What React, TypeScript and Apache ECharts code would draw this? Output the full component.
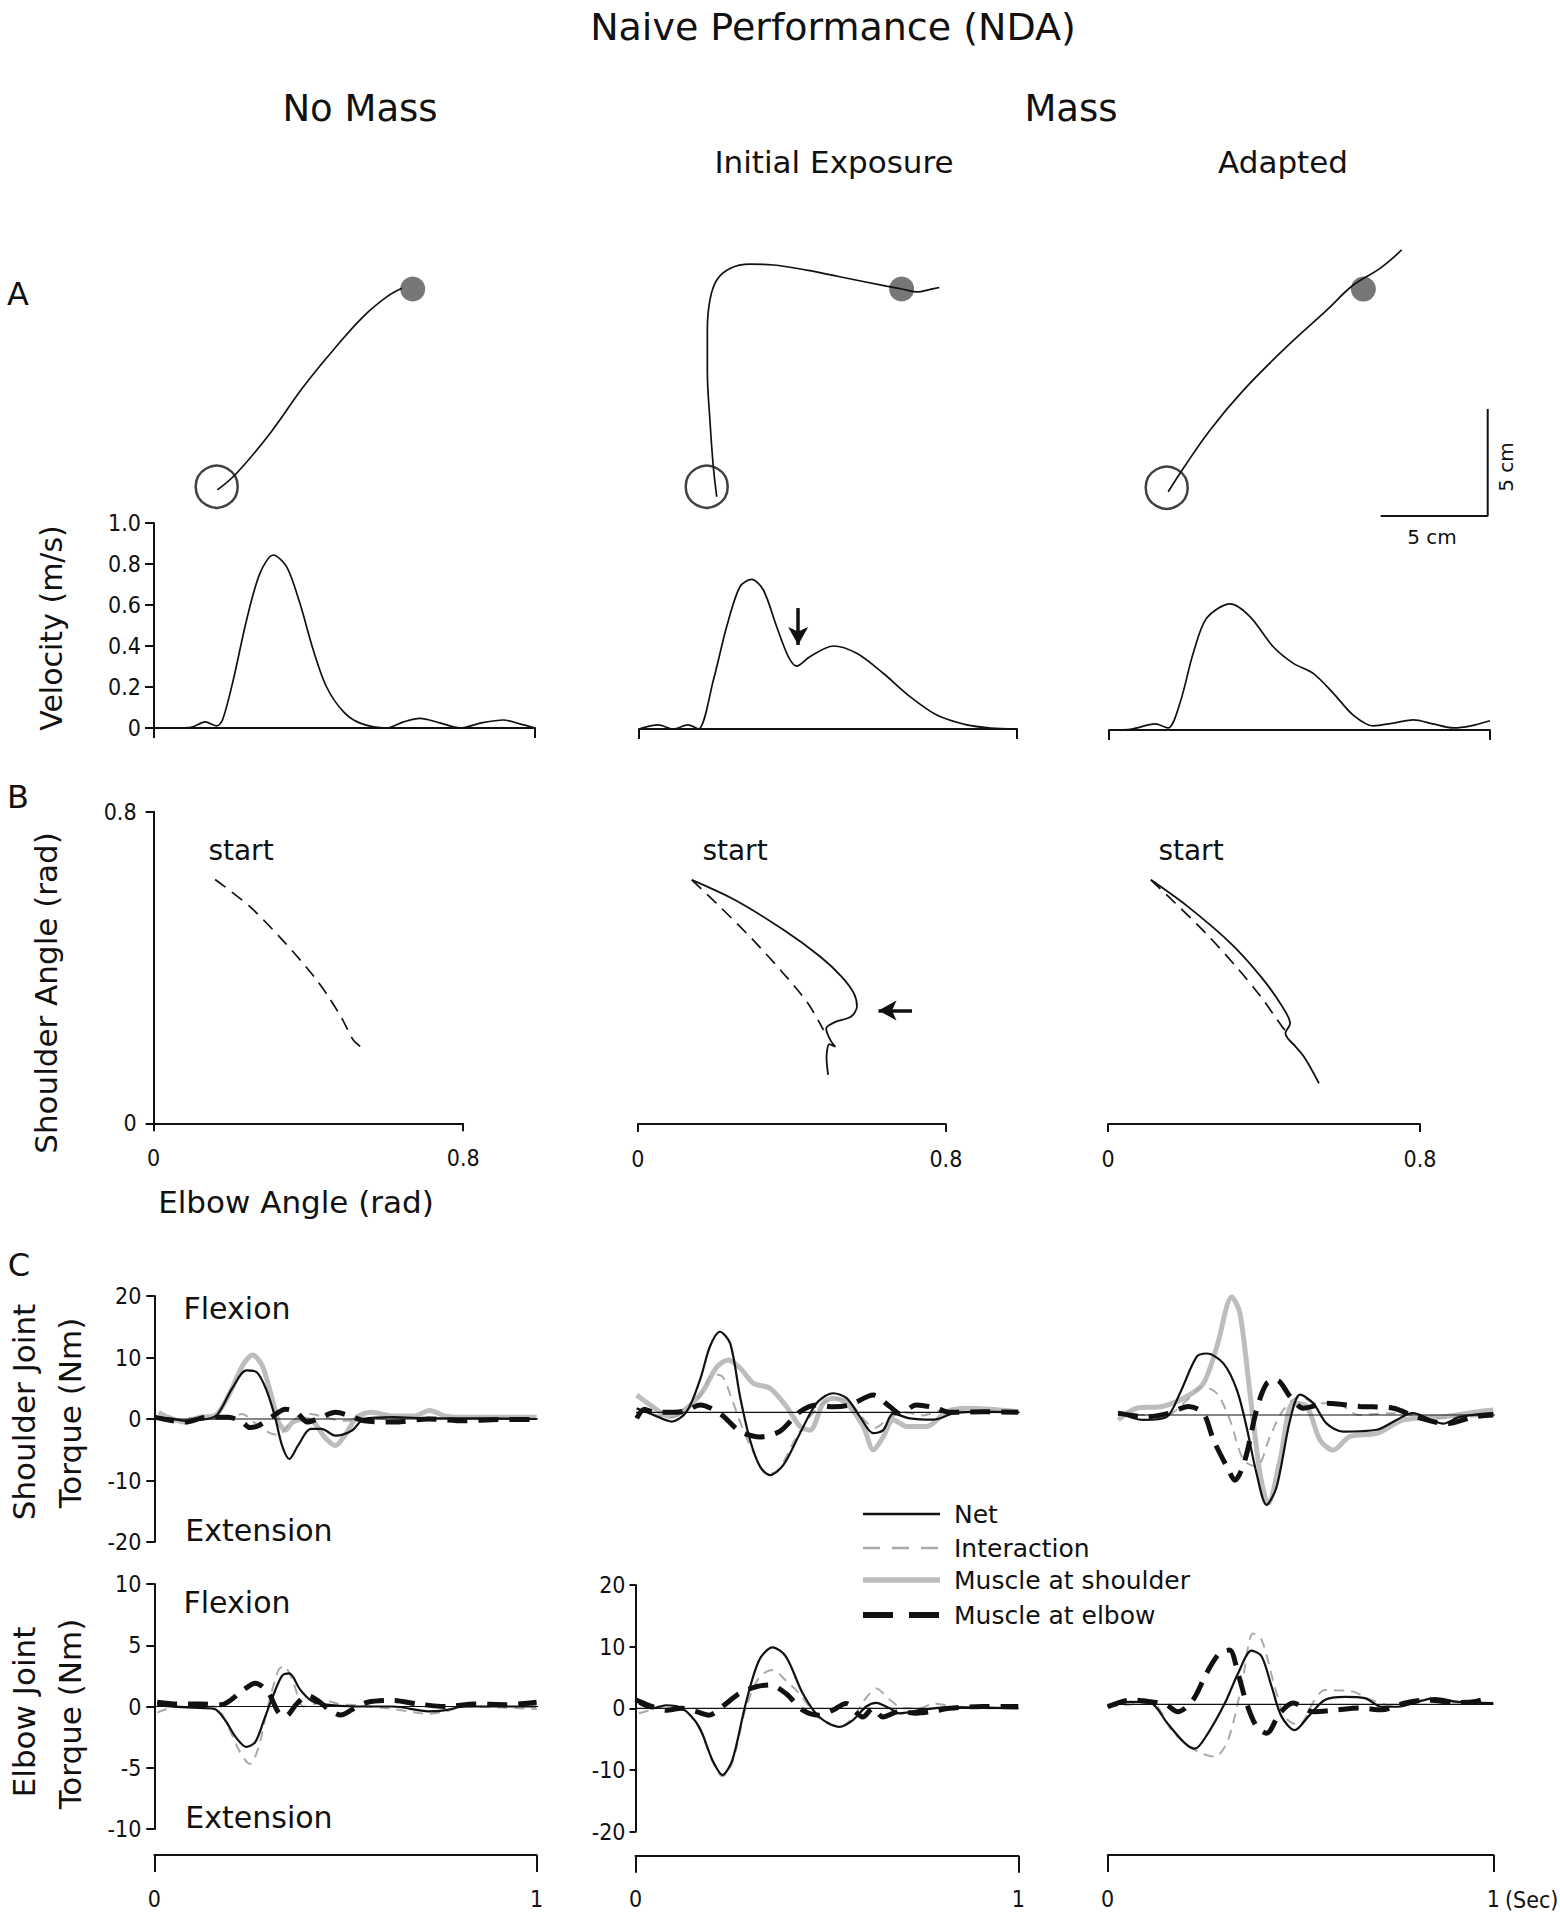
import React, { useEffect, useRef } from "react";
import * as echarts from "echarts";

type P = [number, number];

// ---------------- Panel A: hand paths (cm, relative to start target) ----------------
const pathNoMass: P[] = [[0.03, -0.15], [0.93, 0.63], [2.49, 2.49], [4.05, 4.67], [5.45, 6.39], [6.85, 7.95], [7.96, 8.88], [8.66, 9.27]];
const pathInitial: P[] = [[0.47, -0.47], [0.31, 0.93], [0.15, 3.12], [0.03, 5.45], [0.03, 7.32], [0.15, 8.72], [0.47, 9.66], [1.09, 10.2], [2.02, 10.4], [3.11, 10.36], [4.67, 10.12], [6.22, 9.81], [8.4, 9.37], [9.11, 9.24], [9.86, 9.1], [10.4, 9.21], [10.87, 9.31]];
const pathAdapted: P[] = [[0.07, -0.19], [0.78, 0.91], [2.03, 2.7], [3.59, 4.56], [5.61, 6.59], [7.48, 8.3], [8.72, 9.47], [9.97, 10.25], [10.98, 11.11]];
const startTarget: P[] = [[0, 0]];
const endTargetNoMass: P[] = [[9.16, 9.24]];
const endTargetInitial: P[] = [[9.11, 9.24]];
const endTargetAdapted: P[] = [[9.19, 9.28]];
const scaleBar: P[] = [[10, -1.32], [15, -1.32], [15, 3.68]];

// ---------------- Panel A: tangential velocity (s normalised, m/s) ----------------
const velNoMass: P[] = [[0, 0], [0.05, 0], [0.1, 0.005], [0.134, 0.03], [0.165, 0.01], [0.18, 0.04], [0.208, 0.234], [0.243, 0.527], [0.278, 0.754], [0.313, 0.844], [0.348, 0.787], [0.383, 0.608], [0.418, 0.38], [0.453, 0.2], [0.497, 0.08], [0.541, 0.024], [0.611, 0], [0.655, 0.03], [0.698, 0.047], [0.75, 0.025], [0.803, 0], [0.86, 0.025], [0.917, 0.039], [0.96, 0.02], [1, 0]];
const velInitial: P[] = [[0, 0], [0.051, 0.02], [0.09, 0], [0.13, 0.02], [0.157, 0], [0.197, 0.24], [0.232, 0.5], [0.267, 0.694], [0.298, 0.73], [0.329, 0.678], [0.364, 0.5], [0.395, 0.353], [0.417, 0.307], [0.452, 0.353], [0.514, 0.405], [0.576, 0.369], [0.646, 0.272], [0.717, 0.158], [0.788, 0.068], [0.867, 0.02], [0.93, 0.005], [1, 0]];
const velAdapted: P[] = [[0, 0], [0.06, 0.005], [0.121, 0.03], [0.155, 0.01], [0.186, 0.13], [0.221, 0.374], [0.256, 0.545], [0.318, 0.615], [0.37, 0.553], [0.431, 0.406], [0.484, 0.325], [0.536, 0.276], [0.589, 0.179], [0.641, 0.073], [0.694, 0.02], [0.75, 0.035], [0.799, 0.049], [0.85, 0.03], [0.904, 0.01], [0.95, 0.02], [1, 0.045]];
const velArrow: P[] = [[0.421, 0.59], [0.421, 0.41]];

// ---------------- Panel B: joint angles (elbow, shoulder; rad) ----------------
const jointNaiveNoMass: P[] = [[0.159, 0.626], [0.249, 0.556], [0.341, 0.462], [0.415, 0.376], [0.452, 0.325], [0.489, 0.265], [0.516, 0.214], [0.54, 0.193]];
const jointActualInitial: P[] = [[0.14, 0.626], [0.251, 0.575], [0.378, 0.498], [0.474, 0.429], [0.529, 0.378], [0.561, 0.335], [0.569, 0.301], [0.553, 0.275], [0.513, 0.262], [0.489, 0.245], [0.5, 0.215], [0.513, 0.198], [0.497, 0.205], [0.49, 0.17], [0.494, 0.126]];
const jointNaiveInitial: P[] = [[0.14, 0.626], [0.204, 0.566], [0.299, 0.472], [0.378, 0.386], [0.442, 0.309], [0.482, 0.241]];
const jointActualAdapted: P[] = [[0.11, 0.626], [0.204, 0.558], [0.314, 0.464], [0.392, 0.378], [0.447, 0.301], [0.467, 0.258], [0.455, 0.233], [0.48, 0.2], [0.465, 0.215], [0.502, 0.173], [0.541, 0.104]];
const jointNaiveAdapted: P[] = [[0.11, 0.626], [0.173, 0.566], [0.251, 0.489], [0.329, 0.403], [0.392, 0.326], [0.447, 0.249], [0.463, 0.23]];
const jointArrow: P[] = [[0.712, 0.291], [0.625, 0.291]];

// ---------------- Panel C: shoulder joint torque (s, Nm) ----------------
const shNetNoMass: P[] = [[0, 0.3], [0.04, 0.1], [0.08, -0.27], [0.138, 0], [0.166, 0.8], [0.203, 4.9], [0.241, 7.9], [0.268, 7.6], [0.292, 4.9], [0.315, 0.5], [0.334, -4.3], [0.353, -6.5], [0.376, -4.3], [0.409, -1.6], [0.437, -1.6], [0.474, -2.7], [0.516, -1.9], [0.549, 0], [0.624, 0.3], [0.72, 0.1], [0.85, 0.1], [1, 0]];
const shMusSNoMass: P[] = [[0.012, 1.1], [0.035, 0.3], [0.08, -0.5], [0.119, 0.3], [0.157, 0.5], [0.194, 3.8], [0.231, 8.7], [0.257, 10.4], [0.282, 8.7], [0.306, 3.8], [0.325, -0.5], [0.343, -1.8], [0.362, -0.5], [0.39, 0], [0.418, -0.6], [0.446, -3], [0.474, -4.3], [0.5, -2.5], [0.53, 0.3], [0.568, 1.1], [0.624, 0.5], [0.68, 0.5], [0.72, 1.4], [0.76, 0.5], [0.81, 0.3], [0.9, 0.3], [1, 0.3]];
const shInterNoMass: P[] = [[0, 0.2], [0.05, -0.2], [0.1, 0.2], [0.15, 0], [0.2, 0.3], [0.23, 0.8], [0.26, -0.5], [0.3, -2.2], [0.325, -2.6], [0.35, -1], [0.38, 0.5], [0.41, 0.8], [0.45, 0.2], [0.5, -0.3], [0.55, 0.2], [0.6, 0], [0.7, 0.3], [0.8, 0], [0.9, 0.1], [1, 0]];
const shMusENoMass: P[] = [[0, 0.3], [0.08, -0.5], [0.138, 0.3], [0.194, 0.3], [0.23, -0.5], [0.25, -1.4], [0.272, -1.1], [0.306, 0.3], [0.343, 1.6], [0.372, 1.1], [0.4, -0.5], [0.437, 0.3], [0.474, 1.1], [0.511, 0.5], [0.549, -0.3], [0.624, -0.5], [0.717, 0], [0.81, -0.3], [0.9, -0.1], [1, -0.1]];

const shNetInitial: P[] = [[0, 0.65], [0.044, -0.43], [0.092, -1.5], [0.131, 0.1], [0.166, 5.3], [0.192, 10.7], [0.218, 13.1], [0.245, 11.2], [0.271, 2.5], [0.297, -4.5], [0.323, -8.8], [0.349, -10.2], [0.384, -8.6], [0.428, -3.4], [0.472, 1.5], [0.515, 3.1], [0.55, 2.3], [0.585, -0.7], [0.62, -3.4], [0.646, -2.9], [0.672, -0.2], [0.716, -1], [0.777, -1.2], [0.83, -0.2], [0.9, 0.1], [1, 0]];
const shMusSInitial: P[] = [[0, 2.8], [0.035, 1.2], [0.087, -0.7], [0.131, 0.65], [0.175, 3.6], [0.21, 7.4], [0.24, 8.5], [0.271, 7.2], [0.306, 4.7], [0.349, 3.9], [0.393, 0.9], [0.428, -2.3], [0.454, -2.9], [0.489, 1.5], [0.515, 2.3], [0.55, 1.5], [0.594, -2.3], [0.62, -6.1], [0.646, -4], [0.672, -1.2], [0.708, -2.3], [0.76, -2.3], [0.812, 0.1], [0.865, 0.65], [1, 0.1]];
const shInterInitial: P[] = [[0, 0.5], [0.04, -0.3], [0.09, -0.8], [0.13, 0.3], [0.17, 3], [0.2, 6.2], [0.225, 5.8], [0.25, 2], [0.28, -3], [0.31, -7], [0.34, -10], [0.37, -9.5], [0.41, -5], [0.45, -1], [0.49, 1.5], [0.52, 2.3], [0.56, 1.5], [0.6, -1.5], [0.625, -2.5], [0.66, -1], [0.7, 0], [0.75, -0.5], [0.8, 0.3], [0.9, 0], [1, 0]];
const shMusEInitial: P[] = [[0, -1], [0.02, 0.5], [0.044, 0], [0.1, 0], [0.131, 0.3], [0.166, 1.2], [0.218, -0.2], [0.271, -3.1], [0.323, -4], [0.375, -3.1], [0.428, 0.1], [0.472, 1.2], [0.515, 0.9], [0.559, 1.2], [0.62, 2.8], [0.664, 0.9], [0.69, -0.2], [0.733, 1.2], [0.786, 0.65], [0.82, 0], [0.908, 0.1], [1, 0]];

const shNetAdapted: P[] = [[0.027, 0.5], [0.092, -0.8], [0.153, -0.3], [0.187, 3.5], [0.231, 9.5], [0.257, 10], [0.3, 8.4], [0.335, 4.1], [0.36, -1.9], [0.386, -9.5], [0.412, -14.6], [0.438, -11.7], [0.473, -0.8], [0.499, 3.3], [0.533, 1.9], [0.568, -1.4], [0.611, -2.7], [0.698, -2.4], [0.749, -0.8], [0.79, 0.3], [0.87, -1.4], [0.913, -0.3], [1, 0.3]];
const shMusSAdapted: P[] = [[0.027, -0.8], [0.075, 1.1], [0.143, 1.4], [0.205, 3], [0.248, 5.1], [0.283, 11.1], [0.322, 19.2], [0.343, 16.5], [0.369, 3.5], [0.395, -9.5], [0.416, -14.4], [0.447, -7.3], [0.481, 1.9], [0.516, 1.4], [0.551, -4.1], [0.585, -5.7], [0.628, -3.5], [0.698, -3], [0.767, -0.8], [0.87, -0.3], [0.956, 0.5], [1, 0.8]];
const shInterAdapted: P[] = [[0.027, 0], [0.153, 0], [0.205, 2.4], [0.248, 4.6], [0.283, 3.5], [0.317, -0.8], [0.352, -7.3], [0.386, -8.4], [0.421, -3.5], [0.455, 0.8], [0.499, 3], [0.542, 1.9], [0.594, 1.9], [0.65, 0], [0.74, 0.3], [0.85, -0.5], [1, 0]];
const shMusEAdapted: P[] = [[0.027, 0.3], [0.1, -0.3], [0.16, 0.3], [0.209, 1.4], [0.248, 0.3], [0.274, -4], [0.309, -8.4], [0.33, -10.6], [0.356, -7.3], [0.386, 0.8], [0.412, 5.1], [0.438, 5.7], [0.473, 3], [0.507, 1.1], [0.568, 1.9], [0.655, 1.4], [0.741, 1.1], [0.8, -0.3], [0.878, -1.4], [0.95, -0.3], [1, 0]];

// ---------------- Panel C: elbow joint torque (s, Nm) ----------------
const elNetNoMass: P[] = [[0.0075, 0.08], [0.1, -0.1], [0.157, -0.2], [0.185, -1.1], [0.213, -2.5], [0.241, -3.3], [0.264, -2.9], [0.287, -1.1], [0.306, 0.5], [0.334, 2.5], [0.353, 2.7], [0.381, 1.4], [0.409, 0.5], [0.437, 0.2], [0.53, 0], [0.624, 0], [0.717, -0.4], [0.763, -0.3], [0.81, 0], [1, 0]];
const elInterNoMass: P[] = [[0.0075, -0.5], [0.06, 0], [0.157, 0], [0.194, -1.7], [0.222, -3.6], [0.25, -4.7], [0.273, -3.3], [0.297, 0], [0.325, 3], [0.339, 3.3], [0.362, 2.1], [0.39, 0], [0.418, 0.2], [0.446, 0.5], [0.483, 0.2], [0.53, 0.1], [0.624, -0.2], [0.717, -0.6], [0.763, -0.4], [0.81, 0], [1, -0.2]];
const elMusENoMass: P[] = [[0.0075, 0.35], [0.06, 0.2], [0.12, 0.2], [0.175, 0.15], [0.231, 1.3], [0.264, 1.9], [0.297, 1.2], [0.325, -0.5], [0.343, -0.8], [0.372, 0.2], [0.4, 0.9], [0.427, 0.5], [0.455, -0.2], [0.488, -0.7], [0.52, -0.2], [0.558, 0.35], [0.624, 0.5], [0.69, 0.2], [0.763, 0], [0.838, 0.2], [0.922, 0.15], [1, 0.35]];

const elNetInitial: P[] = [[0.009, 0.8], [0.044, 0], [0.079, 0.5], [0.122, 0], [0.166, -3], [0.201, -8.4], [0.227, -10.8], [0.253, -8.4], [0.288, 0.8], [0.323, 7.8], [0.358, 9.9], [0.393, 8.4], [0.437, 2.4], [0.48, -1.4], [0.533, -3], [0.568, -1.9], [0.603, 0.3], [0.629, 0.9], [0.664, 0], [0.69, -0.8], [0.742, -0.3], [0.821, 0.2], [1, 0]];
const elInterInitial: P[] = [[0.009, -0.8], [0.044, -0.2], [0.079, 0.4], [0.122, 0], [0.166, -3.2], [0.201, -8.6], [0.227, -11], [0.253, -8.8], [0.288, 0], [0.323, 5], [0.358, 6.2], [0.393, 4.5], [0.428, 2.4], [0.48, -1.6], [0.533, -3], [0.568, -1.5], [0.6, 1.5], [0.629, 3.2], [0.664, 1.4], [0.7, 0], [0.742, 0], [0.78, 0.8], [0.821, 0.4], [0.9, 0], [1, 0]];
const elMusEInitial: P[] = [[0, 1.4], [0.044, 0.3], [0.079, -0.3], [0.122, 0], [0.157, -0.5], [0.192, -1.1], [0.227, 0.3], [0.271, 2.4], [0.315, 3.5], [0.35, 3.8], [0.393, 2.4], [0.437, -0.3], [0.48, -1.1], [0.515, -0.3], [0.55, 0.8], [0.594, -1.4], [0.62, 0], [0.646, -1.4], [0.69, -0.5], [0.733, -0.8], [0.777, -0.5], [0.82, 0], [0.908, 0.3], [1, 0.3]];

const elNetAdapted: P[] = [[0, -0.4], [0.06, 0.4], [0.112, 0.2], [0.155, -3.1], [0.2, -6.3], [0.226, -7.2], [0.26, -4.7], [0.304, 0.2], [0.338, 5], [0.373, 8.7], [0.399, 7.8], [0.425, 2.9], [0.451, -2], [0.485, -4.2], [0.52, -2], [0.563, 0.7], [0.615, 1.2], [0.667, 1], [0.71, -0.4], [0.753, -0.4], [0.805, 0.4], [0.848, 1], [0.909, 0.4], [1, 0.2]];
const elInterAdapted: P[] = [[0, -0.4], [0.112, 0.2], [0.172, -4.7], [0.234, -7.7], [0.278, -8.5], [0.312, -5.8], [0.347, 2.9], [0.377, 11.5], [0.399, 10.5], [0.433, 2.9], [0.459, -2], [0.494, -3.4], [0.537, 0.7], [0.563, 2.3], [0.632, 2.1], [0.684, 0.7], [0.74, -0.3], [0.822, 0.7], [0.9, 0.3], [1, 0.1]];
const elMusEAdapted: P[] = [[0, -0.4], [0.06, 0.7], [0.112, 0.4], [0.15, 0], [0.182, -1.2], [0.221, 0.7], [0.256, 5], [0.29, 8.3], [0.316, 8.8], [0.338, 5], [0.36, 0.2], [0.386, -3.6], [0.412, -4.7], [0.446, -1.5], [0.481, 0.2], [0.533, -1.2], [0.593, -0.9], [0.654, -0.6], [0.71, -0.9], [0.771, 0.2], [0.831, 0.7], [0.9, 0.3], [0.95, 0.4], [0.985, 1]];

// legend / labels
const legendNames = ["Net", "Interaction", "Muscle at shoulder", "Muscle at elbow"];

const W = 1560;
const H = 1920;
const FONT = "'DejaVu Sans', 'Noto Sans', sans-serif";
const TICK_FONT = "'Liberation Sans Narrow', 'DejaVu Sans Condensed', 'Liberation Sans', sans-serif";
const TICK_SIZE = 23;
const BLACK = "#111111";
const GRAY_THICK = "#bdbdbd";
const GRAY_DASH = "#aaaaaa";
const S = 21.4; // px per cm for panel A paths

function buildOption(): any {
  const grid: any[] = [];
  const xAxis: any[] = [];
  const yAxis: any[] = [];
  const series: any[] = [];

  const add = (box: any, xa: any, ya: any) => {
    const i = grid.length;
    grid.push({ ...box, containLabel: false, show: false });
    xAxis.push({ ...xa, gridIndex: i });
    yAxis.push({ ...ya, gridIndex: i });
    return i;
  };
  const hidden = (min: number, max: number) => ({ type: "value", min, max, show: false });
  const shown = (min: number, max: number, interval: number, o: any) => ({
    type: "value",
    min,
    max,
    interval,
    offset: o.offset || 0,
    axisLine: { show: true, onZero: false, lineStyle: { color: BLACK, width: 2 } },
    axisTick: { show: true, length: o.tick, lineStyle: { color: BLACK, width: 2 } },
    axisLabel: {
      show: o.labels !== false,
      margin: o.margin || 8,
      fontSize: TICK_SIZE,
      fontFamily: TICK_FONT,
      color: BLACK,
      formatter: o.fmt,
    },
    splitLine: { show: false },
  });
  const line = (g: number, data: P[], style: any, extra: any = {}) => {
    series.push({
      type: "line",
      xAxisIndex: g,
      yAxisIndex: g,
      data,
      showSymbol: false,
      symbol: "none",
      smooth: 0.3,
      silent: true,
      lineStyle: style,
      ...extra,
    });
  };
  const solid = (w: number, c = BLACK) => ({ color: c, width: w, type: "solid" });
  const dashed = (w: number, c: string, d: number[]) => ({ color: c, width: w, type: d });

  // ---------- Panel A paths ----------
  const trajBox = (cx: number, cy: number) => ({ left: cx - 3 * S, top: cy - 12 * S, width: 19 * S, height: 14 * S });
  const trajCols: [number, number, P[], P[]][] = [
    [216.7, 486.7, pathNoMass, endTargetNoMass],
    [706.7, 486.7, pathInitial, endTargetInitial],
    [1166.7, 487.7, pathAdapted, endTargetAdapted],
  ];
  trajCols.forEach(([cx, cy, path, tgt], k) => {
    const g = add(trajBox(cx, cy), hidden(-3, 16), hidden(-2, 12));
    line(g, path, solid(1.7), { smooth: 0.4 });
    series.push({ type: "scatter", xAxisIndex: g, yAxisIndex: g, data: startTarget, symbol: "circle", symbolSize: 42, silent: true, itemStyle: { color: "rgba(255,255,255,0)", borderColor: BLACK, borderWidth: 2.5 } });
    series.push({ type: "scatter", xAxisIndex: g, yAxisIndex: g, data: tgt, symbol: "circle", symbolSize: 25, silent: true, itemStyle: { color: "#555555" } });
    if (k === 2) line(g, scaleBar, solid(2), { smooth: false });
  });

  // ---------- Velocity ----------
  const velFmt = (v: number) => (v === 0 ? "0" : v.toFixed(1));
  const velX = shown(0, 1, 1, { tick: 10, labels: false });
  const v1 = add({ left: 154, top: 523, width: 381, height: 205 }, velX, shown(0, 1, 0.2, { tick: 9, margin: 13, fmt: velFmt }));
  const v2 = add({ left: 639, top: 524, width: 378, height: 205 }, velX, hidden(0, 1));
  const v3 = add({ left: 1109, top: 525, width: 381, height: 205 }, velX, hidden(0, 1));
  line(v1, velNoMass, solid(1.7));
  line(v2, velInitial, solid(1.7), {
    markLine: {
      silent: true,
      animation: false,
      symbol: ["none", "arrow"],
      symbolSize: [15, 18],
      label: { show: false },
      lineStyle: { color: BLACK, width: 3.5, type: "solid" },
      data: [[{ coord: velArrow[0] }, { coord: velArrow[1] }]],
    },
  });
  line(v3, velAdapted, solid(1.7));

  // ---------- Panel B ----------
  const bFmt = (v: number) => (v === 0 ? "0" : "0.8");
  const bX = shown(0, 0.8, 0.8, { tick: 8, margin: 23, fmt: bFmt });
  const b1 = add({ left: 153.6, top: 811.7, width: 309.6, height: 311.6 }, bX, shown(0, 0.8, 0.8, { tick: 8, margin: 17, fmt: bFmt }));
  const b2 = add({ left: 637.9, top: 812, width: 308, height: 312 }, bX, hidden(0, 0.8));
  const b3 = add({ left: 1108, top: 812, width: 312, height: 312 }, bX, hidden(0, 0.8));
  line(b1, jointNaiveNoMass, dashed(1.7, BLACK, [13, 8]));
  line(b2, jointNaiveInitial, dashed(1.7, BLACK, [13, 8]));
  line(b2, jointActualInitial, solid(1.8), {
    markLine: {
      silent: true,
      animation: false,
      symbol: ["none", "arrow"],
      symbolSize: [15, 18],
      label: { show: false },
      lineStyle: { color: BLACK, width: 3.5, type: "solid" },
      data: [[{ coord: jointArrow[0] }, { coord: jointArrow[1] }]],
    },
  });
  line(b3, jointNaiveAdapted, dashed(1.7, BLACK, [13, 8]));
  line(b3, jointActualAdapted, solid(1.8));

  // ---------- Panel C ----------
  const torquePlot = (g: number, net: P[], inter: P[], musE: P[], musS: P[] | null, zero: P[]) => {
    if (musS) line(g, musS, solid(5, GRAY_THICK));
    line(g, inter, dashed(2, GRAY_DASH, [10, 7]));
    line(g, zero, solid(1.2), { smooth: false, clip: false });
    line(g, net, solid(2.2));
    line(g, musE, dashed(5, BLACK, [20, 11]));
  };
  const s1 = add({ left: 154.3, top: 1296, width: 382.4, height: 246 }, hidden(0, 1), shown(-20, 20, 10, { tick: 8, margin: 13 }));
  const s2 = add({ left: 636.7, top: 1289.3, width: 381.6, height: 246 }, hidden(0, 1), hidden(-20, 20));
  const s3 = add({ left: 1107.7, top: 1292, width: 385.6, height: 246 }, hidden(0, 1), hidden(-20, 20));
  torquePlot(s1, shNetNoMass, shInterNoMass, shMusENoMass, shMusSNoMass, [[0, 0], [1.015, 0]]);
  torquePlot(s2, shNetInitial, shInterInitial, shMusEInitial, shMusSInitial, [[-0.005, 0], [1.004, 0]]);
  torquePlot(s3, shNetAdapted, shInterAdapted, shMusEAdapted, shMusSAdapted, [[0.027, 0], [1.03, 0]]);

  const tFmt = (v: number) => (v === 0 ? "0" : "1");
  const tX = (off: number) => shown(0, 1, 1, { tick: 17, margin: 32, offset: off, fmt: tFmt });
  const e1 = add({ left: 154.3, top: 1584, width: 382.3, height: 245 }, tX(26), shown(-10, 10, 5, { tick: 8, margin: 13 }));
  const e2 = add({ left: 635.5, top: 1585, width: 382.8, height: 246.7 }, tX(24), shown(-20, 20, 10, { tick: 6, margin: 10 }));
  const e3 = add({ left: 1107.7, top: 1581, width: 385.6, height: 246.6 }, tX(27.4), hidden(-20, 20));
  torquePlot(e1, elNetNoMass, elInterNoMass, elMusENoMass, null, [[0, 0], [1.015, 0]]);
  torquePlot(e2, elNetInitial, elInterInitial, elMusEInitial, null, [[0, 0], [1, 0]]);
  torquePlot(e3, elNetAdapted, elInterAdapted, elMusEAdapted, null, [[0, 0], [1, 0]]);

  // ---------- Text & legend ----------
  const txt = (text: string, x: number, y: number, size: number, o: any = {}) => ({
    type: "text",
    x,
    y,
    rotation: o.rot || 0,
    silent: true,
    z: 10,
    style: {
      text,
      fontSize: size,
      fontFamily: o.font || FONT,
      fill: BLACK,
      align: o.align || "center",
      verticalAlign: "middle",
      textAlign: o.align || "center",
      textVerticalAlign: "middle",
    },
  });
  const R = Math.PI / 2;
  const graphic: any[] = [
    txt("Naive Performance (NDA)", 833, 27, 38),
    txt("No Mass", 360, 108, 37),
    txt("Mass", 1071, 108, 37),
    txt("Initial Exposure", 834, 162, 31),
    txt("Adapted", 1283, 162, 31),
    txt("A", 18, 294, 32),
    txt("B", 18, 797, 32),
    txt("C", 19, 1265, 32),
    txt("Velocity (m/s)", 51, 628, 30, { rot: R }),
    txt("Shoulder Angle (rad)", 46, 993, 31, { rot: R }),
    txt("Elbow Angle (rad)", 296, 1202, 31),
    txt("start", 241, 850, 28),
    txt("start", 735, 850, 28),
    txt("start", 1191, 850, 28),
    txt("5 cm", 1432, 537, 20),
    txt("5 cm", 1506, 467, 20, { rot: R }),
    txt("Shoulder Joint", 24, 1412, 31, { rot: R }),
    txt("Torque (Nm)", 70, 1413, 31, { rot: R }),
    txt("Elbow Joint", 24, 1712, 31, { rot: R }),
    txt("Torque (Nm)", 70, 1714, 31, { rot: R }),
    txt("Flexion", 237, 1308, 30),
    txt("Extension", 259, 1530, 30),
    txt("Flexion", 237, 1602, 30),
    txt("Extension", 259, 1817, 30),
    txt("(Sec)", 1505, 1900, TICK_SIZE, { align: "left", font: TICK_FONT }),
  ];
  const legendY = [1514, 1548, 1580, 1615];
  const legendStyles = [
    { stroke: BLACK, lineWidth: 2.5 },
    { stroke: GRAY_DASH, lineWidth: 2.5, lineDash: [17, 12] },
    { stroke: GRAY_THICK, lineWidth: 5.5 },
    { stroke: BLACK, lineWidth: 6, lineDash: [30, 16] },
  ];
  legendNames.forEach((name, i) => {
    graphic.push({ type: "line", silent: true, shape: { x1: 863, y1: legendY[i], x2: 940, y2: legendY[i] }, style: legendStyles[i] });
    graphic.push(txt(name, 954, legendY[i], 25, { align: "left" }));
  });

  return { animation: false, backgroundColor: "#ffffff", grid, xAxis, yAxis, series, graphic };
}

export default function App() {
  const ref = useRef<HTMLDivElement>(null);
  useEffect(() => {
    if (!ref.current) return;
    const chart = echarts.init(ref.current, null, { renderer: "svg" });
    chart.setOption(buildOption());
    return () => {
      chart.dispose();
    };
  }, []);
  return <div ref={ref} style={{ position: "absolute", left: 0, top: 0, width: W, height: H, background: "#fff" }} />;
}
